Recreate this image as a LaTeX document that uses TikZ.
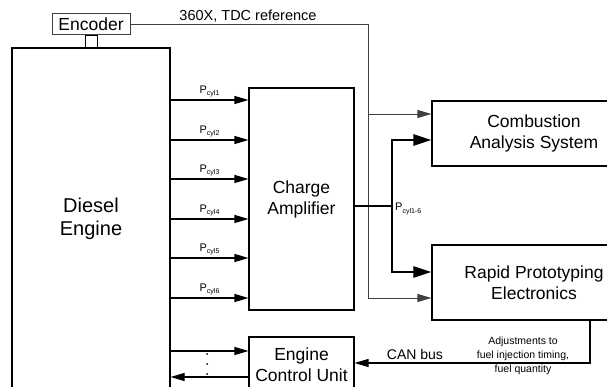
\documentclass[tikz,border=0pt]{standalone}
\usepackage{fontspec}
\setmainfont{Liberation Sans}
\usetikzlibrary{arrows.meta}
\newcommand{\Pcyl}[1]{P\raisebox{-0.4ex}{\fontsize{7}{8}\selectfont cyl#1}}
\begin{document}
\begin{tikzpicture}[x=1pt,y=-1pt,
  box/.style={draw,line width=1.1pt,rectangle,inner sep=0pt,align=center,font=\fontsize{17.5}{21}\selectfont},
  arr/.style={line width=1.1pt,-{Triangle[length=14pt,width=8pt]}},
  thk/.style={line width=2.8pt},
  thkarr/.style={line width=2.8pt,-{Triangle[length=18pt,width=11pt]}},
  gry/.style={draw=black!75,line width=0.9pt},
  plbl/.style={midway,above=2.5pt,inner sep=0pt,font=\fontsize{11}{13}\selectfont}]
\useasboundingbox (0,0) rectangle (607,387);
\clip (0,0) rectangle (607,387);
% boxes
\node[box,minimum width=158pt,minimum height=342pt,font=\fontsize{20}{23}\selectfont] (engine) at (91,219) {Diesel\\Engine};
\node[box,draw=black!75,line width=0.9pt,minimum width=78pt,minimum height=21pt,font=\fontsize{17.5}{20}\selectfont] (enc) at (91,24) {Encoder};
\node[draw,line width=0.9pt,minimum width=12pt,minimum height=13pt,inner sep=0pt] (shaft) at (91,41.5) {};
\node[box,minimum width=105pt,minimum height=222pt] (amp) at (301.5,199) {Charge\\Amplifier};
\node[box,minimum width=204pt,minimum height=65pt] (cas) at (534,133.5) {Combustion\\Analysis System};
\node[box,minimum width=204pt,minimum height=75pt] (rpe) at (534,282.5) {Rapid Prototyping\\Electronics};
\node[box,minimum width=105pt,minimum height=56pt] (ecu) at (301.5,365) {Engine\\Control Unit};
% cylinder pressure arrows
\foreach \i/\y in {1/100,2/140,3/179,4/219,5/258,6/298}{
  \draw[arr] (engine.east |- 0,\y) -- (amp.west |- 0,\y) node[plbl] {\Pcyl{\i}};
}
% encoder reference
\draw[arr,gry] (enc.east) -| (368,298) -- (rpe.west |- 0,298);
\draw[arr,gry] (368,114) -- (cas.west |- 0,114);
\node[font=\fontsize{14.5}{17}\selectfont,inner sep=0pt] (reflbl) at (248,16) {360X, TDC reference};
% thick bus
\draw[thk] (amp.east |- 0,206) -- (392,206);
\draw[thkarr] (392,206) |- (cas.west |- 0,140);
\draw[thkarr] (392,206) |- (rpe.west |- 0,272);
\node[anchor=west,inner sep=0pt,font=\fontsize{11}{13}\selectfont] (buslbl) at (395,209) {\Pcyl{1-6}};
% CAN bus
\draw[arr] (rpe.south -| 590,0) -- (590,363) -- (ecu.east |- 0,363);
\node[font=\fontsize{14}{16}\selectfont,inner sep=0pt] (canlbl) at (415,354) {CAN bus};
\node[font=\fontsize{10.5}{14}\selectfont,align=center,inner sep=0pt] (adjlbl) at (523,356) {Adjustments to\\fuel injection timing,\\fuel quantity};
% ECU links
\draw[arr] (engine.east |- 0,351) -- (ecu.west |- 0,351);
\draw[arr] (ecu.west |- 0,377) -- (engine.east |- 0,377);
\foreach \y in {354,364,374}{\fill (207,\y) circle (1pt);}
\end{tikzpicture}
\end{document}
